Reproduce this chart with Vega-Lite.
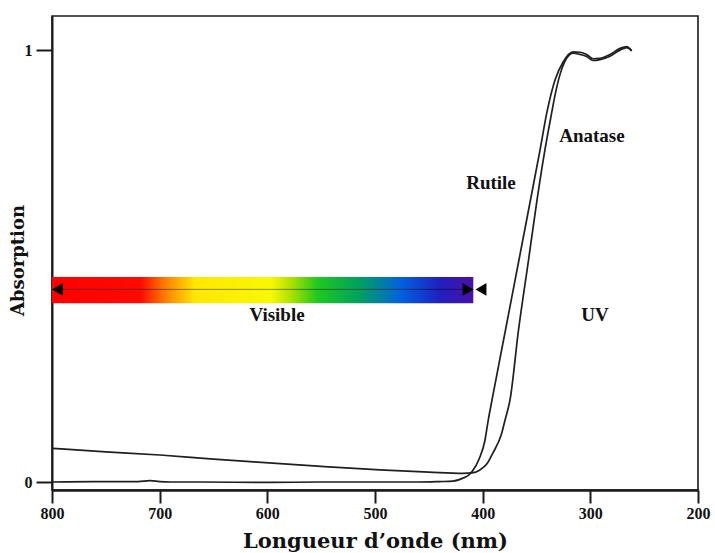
{
  "$schema": "https://vega.github.io/schema/vega-lite/v6.json",
  "width": 646,
  "height": 474,
  "autosize": "none",
  "padding": {"left": 52, "top": 16, "right": 17, "bottom": 63},
  "background": "white",
  "config": {
    "view": {"stroke": "#1a1a1a", "strokeWidth": 1.6},
    "font": "Liberation Serif"
  },
  "datasets": {
    "curves": [
      {"sample": "Rutile", "wl": 800, "a": 0.0},
      {"sample": "Rutile", "wl": 760, "a": 0.001},
      {"sample": "Rutile", "wl": 720, "a": 0.001},
      {"sample": "Rutile", "wl": 709, "a": 0.003},
      {"sample": "Rutile", "wl": 700, "a": 0.001},
      {"sample": "Rutile", "wl": 690, "a": 0.0},
      {"sample": "Rutile", "wl": 662, "a": 0.0},
      {"sample": "Rutile", "wl": 600, "a": -0.001},
      {"sample": "Rutile", "wl": 550, "a": 0.0},
      {"sample": "Rutile", "wl": 500, "a": 0.0},
      {"sample": "Rutile", "wl": 460, "a": 0.0},
      {"sample": "Rutile", "wl": 440, "a": 0.001},
      {"sample": "Rutile", "wl": 427.6, "a": 0.002},
      {"sample": "Rutile", "wl": 418.3, "a": 0.009},
      {"sample": "Rutile", "wl": 413, "a": 0.016},
      {"sample": "Rutile", "wl": 409.9, "a": 0.024},
      {"sample": "Rutile", "wl": 403, "a": 0.055},
      {"sample": "Rutile", "wl": 398, "a": 0.095},
      {"sample": "Rutile", "wl": 394.8, "a": 0.1435},
      {"sample": "Rutile", "wl": 391.3, "a": 0.19},
      {"sample": "Rutile", "wl": 378.8, "a": 0.352},
      {"sample": "Rutile", "wl": 366.3, "a": 0.514},
      {"sample": "Rutile", "wl": 355.6, "a": 0.653},
      {"sample": "Rutile", "wl": 346.7, "a": 0.769},
      {"sample": "Rutile", "wl": 340.5, "a": 0.854},
      {"sample": "Rutile", "wl": 332.8, "a": 0.931},
      {"sample": "Rutile", "wl": 325.4, "a": 0.972},
      {"sample": "Rutile", "wl": 316.1, "a": 0.996},
      {"sample": "Rutile", "wl": 309.6, "a": 0.995},
      {"sample": "Rutile", "wl": 303.4, "a": 0.99},
      {"sample": "Rutile", "wl": 297.5, "a": 0.98},
      {"sample": "Rutile", "wl": 291, "a": 0.981},
      {"sample": "Rutile", "wl": 281.7, "a": 0.99},
      {"sample": "Rutile", "wl": 272.4, "a": 1.004},
      {"sample": "Rutile", "wl": 266.2, "a": 1.008},
      {"sample": "Rutile", "wl": 261.6, "a": 0.998},
      {"sample": "Anatase", "wl": 800, "a": 0.078},
      {"sample": "Anatase", "wl": 750, "a": 0.07},
      {"sample": "Anatase", "wl": 699.7, "a": 0.0625},
      {"sample": "Anatase", "wl": 650, "a": 0.053},
      {"sample": "Anatase", "wl": 616, "a": 0.047},
      {"sample": "Anatase", "wl": 550, "a": 0.036},
      {"sample": "Anatase", "wl": 495.4, "a": 0.028},
      {"sample": "Anatase", "wl": 450, "a": 0.023},
      {"sample": "Anatase", "wl": 418.3, "a": 0.02},
      {"sample": "Anatase", "wl": 409.9, "a": 0.021},
      {"sample": "Anatase", "wl": 402.5, "a": 0.028},
      {"sample": "Anatase", "wl": 396, "a": 0.042},
      {"sample": "Anatase", "wl": 390.5, "a": 0.067},
      {"sample": "Anatase", "wl": 382.3, "a": 0.113},
      {"sample": "Anatase", "wl": 379.2, "a": 0.1435},
      {"sample": "Anatase", "wl": 374.6, "a": 0.19},
      {"sample": "Anatase", "wl": 366.7, "a": 0.352},
      {"sample": "Anatase", "wl": 357.4, "a": 0.514},
      {"sample": "Anatase", "wl": 349.5, "a": 0.653},
      {"sample": "Anatase", "wl": 342.1, "a": 0.77},
      {"sample": "Anatase", "wl": 337, "a": 0.84},
      {"sample": "Anatase", "wl": 332, "a": 0.905},
      {"sample": "Anatase", "wl": 328, "a": 0.945},
      {"sample": "Anatase", "wl": 324, "a": 0.972},
      {"sample": "Anatase", "wl": 316.1, "a": 0.993},
      {"sample": "Anatase", "wl": 309.6, "a": 0.99},
      {"sample": "Anatase", "wl": 303.4, "a": 0.985},
      {"sample": "Anatase", "wl": 297.5, "a": 0.976},
      {"sample": "Anatase", "wl": 291, "a": 0.978},
      {"sample": "Anatase", "wl": 281.7, "a": 0.986},
      {"sample": "Anatase", "wl": 272.4, "a": 1.0},
      {"sample": "Anatase", "wl": 266.2, "a": 1.006},
      {"sample": "Anatase", "wl": 261.6, "a": 0.999}
    ],
    "band": [{"wl": 800, "wl2": 408.7, "lo": 0.414, "hi": 0.4745, "mid": 0.446}],
    "arrowLeft": [{"wl": 795, "a": 0.446}, {"wl": 401.6, "a": 0.446}],
    "arrowRight": [{"wl": 413.6, "a": 0.446}],
    "labels": [
      {"label": "Visible", "wl": 591, "a": 0.3866},
      {"label": "UV", "wl": 295.7, "a": 0.3866},
      {"label": "Rutile", "wl": 392.3, "a": 0.692},
      {"label": "Anatase", "wl": 298.5, "a": 0.801}
    ]
  },
  "encoding": {
    "x": {
      "field": "wl", "type": "quantitative",
      "scale": {"domain": [200, 800], "reverse": true, "nice": false, "zero": false},
      "axis": {
        "values": [800, 700, 600, 500, 400, 300, 200],
        "grid": false,
        "title": "Longueur d’onde (nm)",
        "titleFont": "DejaVu Serif", "titleFontSize": 21, "titleFontWeight": "bold", "titleColor": "#111",
        "titlePadding": 9,
        "labelFont": "Liberation Serif", "labelFontSize": 16, "labelFontWeight": "bold", "labelColor": "#111",
        "labelPadding": 2, "labelFlush": false,
        "tickSize": 13, "tickWidth": 2, "tickColor": "#1a1a1a",
        "domainWidth": 2.5, "domainColor": "#1a1a1a"
      }
    },
    "y": {
      "field": "a", "type": "quantitative",
      "scale": {"domain": [-0.0185, 1.079], "nice": false, "zero": false},
      "axis": {
        "values": [0, 1],
        "format": "d",
        "grid": false,
        "title": "Absorption",
        "titleFont": "DejaVu Serif", "titleFontSize": 18, "titleFontWeight": "bold", "titleColor": "#111",
        "titlePadding": -3,
        "titleY": 244,
        "labelFont": "Liberation Serif", "labelFontSize": 16, "labelFontWeight": "bold", "labelColor": "#111",
        "labelPadding": 4,
        "tickSize": 16, "tickWidth": 2, "tickColor": "#1a1a1a",
        "domainWidth": 2, "domainColor": "#1a1a1a"
      }
    }
  },
  "layer": [
    {
      "data": {"name": "band"},
      "mark": {
        "type": "rect",
        "fill": {
          "gradient": "linear", "x1": 0, "y1": 0, "x2": 1, "y2": 0,
          "stops": [
            {"offset": 0, "color": "#ff0000"},
            {"offset": 0.21, "color": "#ff0a00"},
            {"offset": 0.27, "color": "#ff8000"},
            {"offset": 0.34, "color": "#ffe800"},
            {"offset": 0.52, "color": "#f8f800"},
            {"offset": 0.57, "color": "#a8e000"},
            {"offset": 0.63, "color": "#20c820"},
            {"offset": 0.73, "color": "#00a060"},
            {"offset": 0.83, "color": "#0060e0"},
            {"offset": 0.92, "color": "#2020c0"},
            {"offset": 1, "color": "#4a10a8"}
          ]
        }
      },
      "encoding": {
        "x": {"field": "wl"},
        "x2": {"field": "wl2"},
        "y": {"field": "lo"},
        "y2": {"field": "hi"}
      }
    },
    {
      "data": {"name": "band"},
      "mark": {"type": "rule", "color": "#000", "strokeWidth": 1, "opacity": 0.45},
      "encoding": {
        "x": {"field": "wl"},
        "x2": {"field": "wl2"},
        "y": {"field": "mid"}
      }
    },
    {
      "data": {"name": "arrowLeft"},
      "mark": {"type": "point", "shape": "triangle-left", "filled": true, "color": "#000", "size": 160, "opacity": 1}
    },
    {
      "data": {"name": "arrowRight"},
      "mark": {"type": "point", "shape": "triangle-right", "filled": true, "color": "#000", "size": 160, "opacity": 1}
    },
    {
      "data": {"name": "curves"},
      "mark": {"type": "line", "color": "#1f1f1f", "strokeWidth": 1.7, "interpolate": "monotone"},
      "encoding": {
        "detail": {"field": "sample", "type": "nominal"}
      }
    },
    {
      "data": {"name": "labels"},
      "mark": {"type": "text", "font": "Liberation Serif", "fontSize": 19, "fontWeight": "bold", "color": "#111", "align": "center", "baseline": "middle"},
      "encoding": {
        "text": {"field": "label", "type": "nominal"}
      }
    }
  ]
}
